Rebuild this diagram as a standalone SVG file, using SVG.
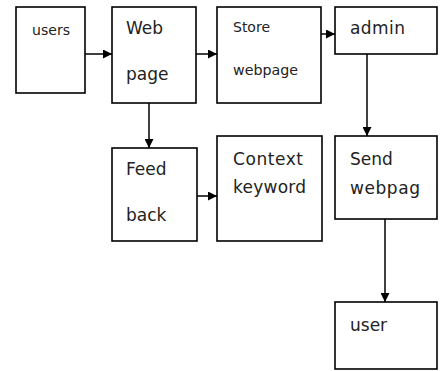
<svg xmlns="http://www.w3.org/2000/svg" width="441" height="371" viewBox="0 0 441 371">
<style>
.box{fill:#fff;stroke:#000;stroke-width:1.6}
.t{font-family:"DejaVu Sans",sans-serif;font-size:17px;fill:#222}
.s{font-family:"DejaVu Sans",sans-serif;font-size:14px;fill:#222}
.c{stroke:#000;stroke-width:1.5;fill:none;marker-end:url(#ah)}
</style>
<defs>
<marker id="ah" viewBox="0 0 10 10" refX="10" refY="5" markerWidth="6" markerHeight="6" markerUnits="strokeWidth" orient="auto">
<path d="M0,0 L10,5 L0,10 z" fill="#000"/>
</marker>
</defs>
<g id="connectors">
<line class="c" x1="85" y1="54" x2="112" y2="54"/>
<line class="c" x1="196" y1="54" x2="217" y2="54"/>
<line class="c" x1="321" y1="34" x2="335" y2="34"/>
<line class="c" x1="367" y1="54" x2="367" y2="136" stroke="#444" stroke-width="2"/>
<line class="c" x1="149" y1="103" x2="149" y2="148"/>
<line class="c" x1="197" y1="196" x2="217" y2="196"/>
<line class="c" x1="385" y1="219" x2="385" y2="302"/>
</g>
<g id="users">
<rect class="box" x="16" y="7" width="69" height="86"/>
<text class="s" x="32" y="35" textLength="38" lengthAdjust="spacingAndGlyphs">users</text>
</g>
<g id="webpage">
<rect class="box" x="112" y="7" width="84" height="96"/>
<text class="t" x="126" y="34">Web</text>
<text class="t" x="126" y="80">page</text>
</g>
<g id="store">
<rect class="box" x="217" y="7" width="104" height="96"/>
<text class="s" x="233" y="32" textLength="37" lengthAdjust="spacingAndGlyphs">Store</text>
<text class="s" x="233" y="75" textLength="65" lengthAdjust="spacingAndGlyphs">webpage</text>
</g>
<g id="admin">
<rect class="box" x="335" y="7" width="102" height="47"/>
<text class="t" x="350" y="34" textLength="55">admin</text>
</g>
<g id="feedback">
<rect class="box" x="112" y="148" width="85" height="93"/>
<text class="t" x="126" y="175">Feed</text>
<text class="t" x="126" y="221">back</text>
</g>
<g id="context">
<rect class="box" x="217" y="136" width="105" height="105"/>
<text class="t" x="233" y="165" textLength="70">Context</text>
<text class="t" x="233" y="193" textLength="73">keyword</text>
</g>
<g id="send">
<rect class="box" x="335" y="136" width="102" height="83"/>
<text class="t" x="350" y="165">Send</text>
<text class="t" x="350" y="194" textLength="70">webpag</text>
</g>
<g id="user">
<rect class="box" x="335" y="302" width="102" height="67"/>
<text class="t" x="350" y="331">user</text>
</g>
</svg>
